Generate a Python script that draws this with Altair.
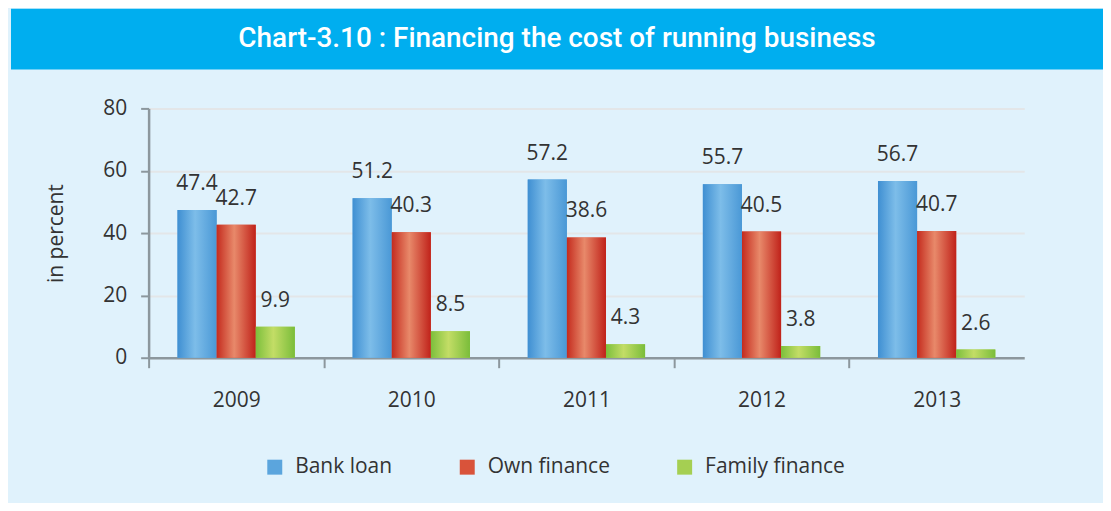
import altair as alt
import pandas as pd

# ---- data ----
years = ["2009", "2010", "2011", "2012", "2013"]
series = ["Bank loan", "Own finance", "Family finance"]
bank_loan = [47.4, 51.2, 57.2, 55.7, 56.7]
own_finance = [42.7, 40.3, 38.6, 40.5, 40.7]
family_finance = [9.9, 8.5, 4.3, 3.8, 2.6]
y_ticks = [0, 20, 40, 60, 80]
title_text = "Chart-3.10 : Financing the cost of running business"
y_title = "in percent"

rows = []
for name, vals in zip(series, [bank_loan, own_finance, family_finance]):
    for yr, v in zip(years, vals):
        rows.append({"year": yr, "series": name, "value": v})
df = pd.DataFrame(rows)

FONT = "Open Sans"
TXT = "#333333"
AXC = "#8C979D"
BG = "#E0F2FC"
HEAD = "#00AEEF"
solid = ["#5BA5DD", "#D9533A", "#A5CF52"]
grad_stops = {
    "Bank loan": ["#3F8FD2", "#7DBDE9", "#4A98D6"],
    "Own finance": ["#C42B1E", "#E8896A", "#C0221A"],
    "Family finance": ["#7CBF3C", "#C3DD66", "#7ABD3A"],
}

W, H = 878, 250
step = W / len(years)

x_enc = alt.X(
    "year:N", sort=years,
    scale=alt.Scale(paddingInner=0.33, paddingOuter=0.165),
    axis=alt.Axis(title=None, labelAngle=0, labelFontSize=21, labelColor=TXT,
                  labelFont=FONT, labelPadding=22, tickSize=10, tickColor=AXC,
                  tickWidth=2, tickOffset=-step / 2, labelOffset=step / 2,
                  domainColor=AXC, domainWidth=2.5, grid=False),
)
xo_enc = alt.XOffset("series:N", sort=series,
                     scale=alt.Scale(domain=series, paddingInner=0, paddingOuter=0))
y_enc = alt.Y(
    "value:Q", scale=alt.Scale(domain=[0, 80]),
    axis=alt.Axis(values=y_ticks, title=y_title, titleFontSize=21,
                  titleFontWeight="normal", titleColor=TXT, titleFont=FONT,
                  titlePadding=36, labelFontSize=21, labelColor=TXT, labelFont=FONT,
                  labelPadding=14, tickSize=8, tickColor=AXC, tickWidth=2,
                  domainColor=AXC, domainWidth=2.5, grid=True,
                  gridColor="#E3E6E8", gridWidth=2),
)

base = alt.Chart(df).mark_bar().encode(
    x=x_enc, xOffset=xo_enc, y=y_enc,
    color=alt.Color("series:N", sort=series,
                    scale=alt.Scale(domain=series, range=solid),
                    legend=alt.Legend(orient="none", legendX=254, legendY=449,
                                      direction="horizontal", title=None,
                                      symbolType="square", symbolSize=225,
                                      symbolStrokeWidth=0, symbolOpacity=1,
                                      labelFontSize=21, labelFont=FONT,
                                      labelColor=TXT, columnPadding=64,
                                      labelOffset=10)),
)

grad_layers = []
for s in series:
    c = grad_stops[s]
    grad = alt.Gradient(
        gradient="linear", x1=0, x2=1, y1=0, y2=0,
        stops=[alt.GradientStop(offset=0, color=c[0]),
               alt.GradientStop(offset=0.45, color=c[1]),
               alt.GradientStop(offset=1, color=c[2])],
    )
    grad_layers.append(
        alt.Chart(df).transform_filter(alt.datum.series == s)
        .mark_bar(color=grad)
        .encode(x=x_enc, xOffset=xo_enc, y=y_enc)
    )

labels = alt.Chart(df).mark_text(dy=-26, fontSize=21, color=TXT, font=FONT).encode(
    x=x_enc, xOffset=xo_enc, y=y_enc,
    text=alt.Text("value:Q", format=".1f"),
)

main = alt.layer(base, *grad_layers, labels).properties(
    width=W, height=H, view=alt.ViewBackground(stroke="transparent", strokeWidth=0)
)

spacer = alt.Chart(pd.DataFrame({"v": [0]})).mark_point(opacity=0).encode(
    x=alt.value(0), y=alt.value(0)
).properties(width=34, height=H,
             view=alt.ViewBackground(stroke="transparent", strokeWidth=0))

header = alt.Chart(pd.DataFrame({"t": [title_text]})).mark_text(
    font="Roboto", fontSize=28, fontWeight=500, color="white"
).encode(text="t:N").properties(
    width=1095, height=61,
    view=alt.ViewBackground(fill=HEAD, stroke="transparent", strokeWidth=0),
)

chart = alt.vconcat(
    header,
    alt.hconcat(spacer, main, spacing=0),
    spacing=28,
).properties(
    background=BG,
    padding={"left": 0, "top": 0, "right": 0, "bottom": 25},
).configure_view(stroke="transparent", strokeWidth=0).configure(font=FONT)

chart.save("out.html", embed_options={"renderer": "svg", "actions": False})
